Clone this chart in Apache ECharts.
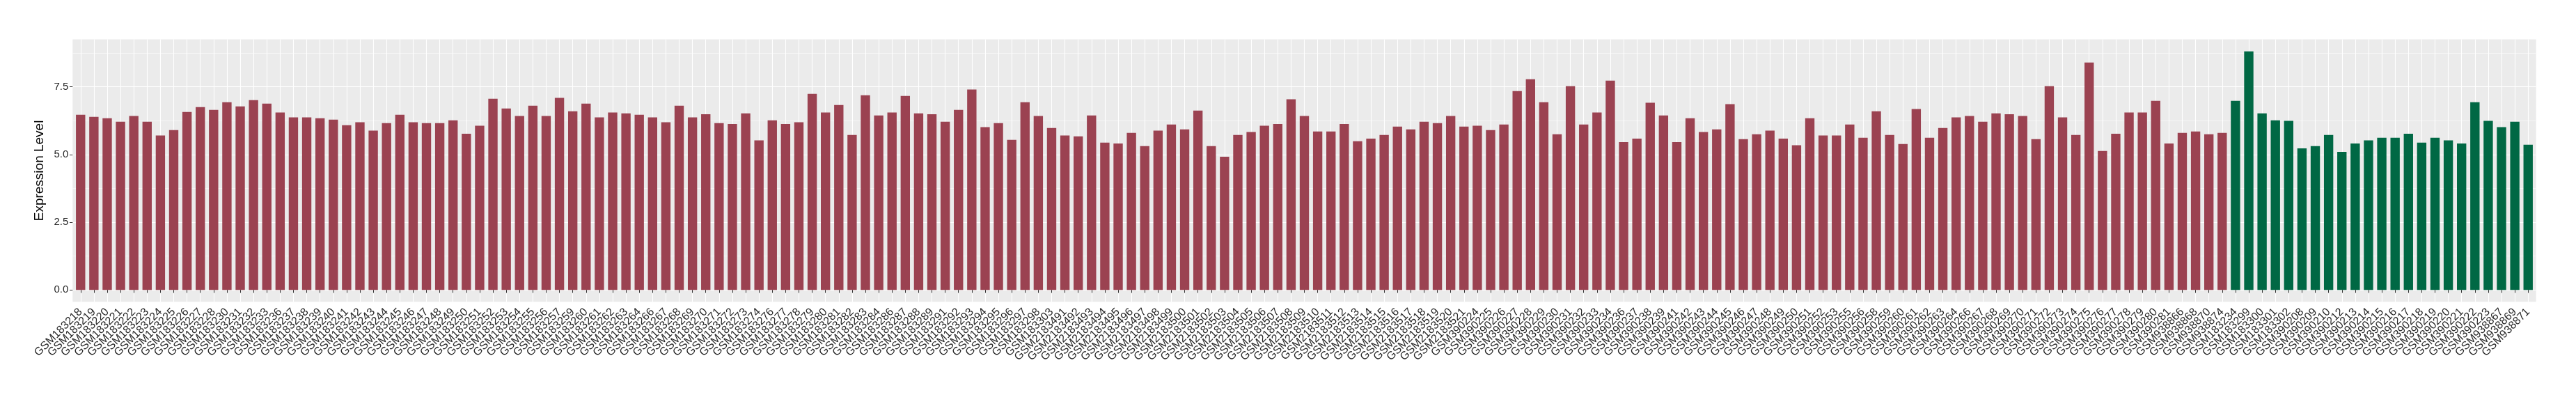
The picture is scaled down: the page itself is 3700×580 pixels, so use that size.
<!DOCTYPE html>
<html><head><meta charset="utf-8">
<script src="https://cdn.jsdelivr.net/npm/echarts@6/dist/echarts.min.js"></script>
<style>html,body{margin:0;padding:0;background:#fff}#c{width:3700px;height:580px}</style>
</head><body><div id="c"></div>
<script>
// ---- data ----
const redSamples = [
 'GSM183218','GSM183219','GSM183220','GSM183221','GSM183222','GSM183223','GSM183224','GSM183225','GSM183226','GSM183227','GSM183228',
 'GSM183230','GSM183231','GSM183232','GSM183233','GSM183236','GSM183237','GSM183238','GSM183239','GSM183240','GSM183241','GSM183242',
 'GSM183243','GSM183244','GSM183245','GSM183246','GSM183247','GSM183248','GSM183249','GSM183250','GSM183251','GSM183252','GSM183253',
 'GSM183254','GSM183255','GSM183256','GSM183257','GSM183259','GSM183260','GSM183261','GSM183262','GSM183263','GSM183264','GSM183266',
 'GSM183267','GSM183268','GSM183269','GSM183270','GSM183271','GSM183272','GSM183273','GSM183274','GSM183276','GSM183277','GSM183278',
 'GSM183279','GSM183280','GSM183281','GSM183282','GSM183283','GSM183284','GSM183286','GSM183287','GSM183288','GSM183289','GSM183291',
 'GSM183292','GSM183293','GSM183294','GSM183295','GSM183296','GSM183297','GSM183298','GSM183303',
 'GSM2183491','GSM2183492','GSM2183493','GSM2183494','GSM2183495','GSM2183496','GSM2183497','GSM2183498','GSM2183499','GSM2183500',
 'GSM2183501','GSM2183502','GSM2183503','GSM2183504','GSM2183505','GSM2183506','GSM2183507','GSM2183508','GSM2183509','GSM2183510',
 'GSM2183511','GSM2183512','GSM2183513','GSM2183514','GSM2183515','GSM2183516','GSM2183517','GSM2183518','GSM2183519','GSM2183520','GSM2183521',
 'GSM390224','GSM390225','GSM390226','GSM390227','GSM390228','GSM390229','GSM390230','GSM390231','GSM390232','GSM390233','GSM390234',
 'GSM390236','GSM390237','GSM390238','GSM390239','GSM390241','GSM390242','GSM390243','GSM390244','GSM390245','GSM390246','GSM390247',
 'GSM390248','GSM390249','GSM390250','GSM390251','GSM390252','GSM390253','GSM390255','GSM390256','GSM390258','GSM390259','GSM390260',
 'GSM390261','GSM390262','GSM390263','GSM390264','GSM390266','GSM390267','GSM390268','GSM390269','GSM390270','GSM390271','GSM390272',
 'GSM390273','GSM390274','GSM390275','GSM390276','GSM390277','GSM390278','GSM390279','GSM390280','GSM390281',
 'GSM938866','GSM938868','GSM938870','GSM938874'
];
const greenSamples = [
 'GSM183234','GSM183299','GSM183300','GSM183301','GSM183302',
 'GSM390208','GSM390209','GSM390210','GSM390212','GSM390213','GSM390214','GSM390215','GSM390216','GSM390217','GSM390218',
 'GSM390219','GSM390220','GSM390221','GSM390222','GSM390223',
 'GSM938867','GSM938869','GSM938871'
];
const redValues = [
 6.47,6.39,6.34,6.21,6.42,6.21,5.70,5.90,6.57,6.75,6.65,6.93,6.78,7.01,6.88,6.55,6.37,6.37,6.34,6.29,6.08,6.19,5.88,6.16,6.47,6.19,6.16,6.16,6.26,5.77,6.06,7.06,6.70,6.42,6.80,6.42,7.09,6.60,6.88,6.37,6.55,6.52,6.47,6.37,6.19,6.80,6.37,
 6.49,6.16,6.13,6.52,5.52,6.26,6.13,6.19,7.24,6.55,6.83,5.72,7.19,6.44,6.55,7.16,6.52,6.49,6.21,6.65,7.40,6.01,6.16,5.54,6.93,6.42,5.98,5.70,5.67,6.44,5.44,5.41,5.80,5.31,5.88,6.11,5.93,6.62,5.31,4.92,5.72,5.83,6.06,6.13,7.04,6.42,
 5.85,5.85,6.13,5.49,5.59,5.72,6.03,5.93,6.21,6.16,6.42,6.03,6.06,5.90,6.11,7.34,7.78,6.93,5.75,7.52,6.11,6.55,7.73,5.46,5.59,6.91,6.44,5.46,6.34,5.83,5.93,6.86,5.57,5.75,5.88,5.59,5.34,6.34,5.70,5.70,6.11,5.62,6.60,5.72,5.39,6.68,
 5.62,5.98,6.37,6.42,6.21,6.52,6.49,6.42,5.57,7.52,6.37,5.72,8.40,5.13,5.77,6.55,6.55,6.98,5.41,5.80,5.85,5.75,5.80
];
const greenValues = [
 6.98,8.81,6.52,6.26,6.24,5.23,5.31,5.72,5.10,5.41,5.52,5.62,5.62,5.77,5.44,5.62,5.52,5.41,6.93,6.24,6.01,6.21,5.36
];
const yTickValues = [0, 2.5, 5, 7.5];
const yTitle = 'Expression Level';

// ---- layout ----
const W = 3700, H = 580;
const PL = 104.3, PR = 3642.7, PT = 56.6, PB = 433.3;
const yLo = -0.4405, yHi = 9.2505;
const categories = redSamples.concat(greenSamples);
const n = categories.length;
const band = (PR - PL) / (n - 1 + 1.2);
const ppu = (PB - PT) / (yHi - yLo);
const gA_top = PT - (10 - yHi) * ppu;
const gA_bot = PB + (yLo + 2.5) * ppu;

const redData = categories.map((c, i) => i < redValues.length ? redValues[i] : '-');
const greenData = categories.map((c, i) => i >= redValues.length ? greenValues[i - redValues.length] : '-');

const FONT = 'Liberation Sans';
const TXT = '#262626';
const chart = echarts.init(document.getElementById('c'), null, {renderer: 'canvas'});
chart.setOption({
  animation: false,
  backgroundColor: '#ffffff',
  grid: [
    {left: PL, right: W - PR, top: PT, bottom: H - PB, show: true, backgroundColor: '#EBEBEB', borderWidth: 0},
    {left: PL, right: W - PR, top: gA_top, bottom: H - gA_bot, show: false},
    {left: PL + 0.1 * band, right: W - PR + 0.1 * band, top: PT, bottom: H - PB, show: false},
    {left: PL + 0.6 * band, right: W - PR + 0.6 * band, top: PT, bottom: H - PB, show: false}
  ],
  xAxis: [
    {gridIndex: 0, type: 'value', show: false, min: 0, max: 1},
    {gridIndex: 1, type: 'value', show: false, min: 0, max: 1},
    {gridIndex: 2, type: 'category', data: categories, boundaryGap: true,
      axisLine: {show: false},
      axisTick: {show: true, alignWithLabel: true, interval: 0, length: 4.3, lineStyle: {color: '#333333', width: 1}},
      axisLabel: {show: true, interval: 0, rotate: 45, margin: 12, fontFamily: FONT, fontSize: 16, color: TXT},
      splitLine: {show: false}},
    {gridIndex: 3, type: 'category', data: categories, boundaryGap: false,
      axisLine: {show: false}, axisTick: {show: false}, axisLabel: {show: false},
      splitLine: {show: true, interval: 0, lineStyle: {color: '#FFFFFF', width: 1.1}}}
  ],
  yAxis: [
    {gridIndex: 0, type: 'value', min: yLo, max: yHi,
      axisLine: {show: false},
      axisTick: {show: true, customValues: yTickValues, length: 4.3, lineStyle: {color: '#333333', width: 1}},
      axisLabel: {show: true, customValues: yTickValues, margin: 6, fontFamily: FONT, fontSize: 15, color: TXT,
        formatter: v => Number(v).toFixed(1)},
      splitLine: {show: false},
      name: yTitle, nameLocation: 'middle', nameGap: 31, nameRotate: 90,
      nameTextStyle: {fontFamily: FONT, fontSize: 19, color: '#000000'}},
    {gridIndex: 1, type: 'value', min: -2.5, max: 10, interval: 2.5,
      axisLine: {show: false}, axisTick: {show: false}, axisLabel: {show: false},
      splitLine: {show: true, lineStyle: {color: '#FFFFFF', width: 1.1}},
      minorTick: {show: false, splitNumber: 2},
      minorSplitLine: {show: true, lineStyle: {color: '#FFFFFF', width: 0.55}}},
    {gridIndex: 2, type: 'value', min: yLo, max: yHi, show: false},
    {gridIndex: 3, type: 'value', min: yLo, max: yHi, show: false}
  ],
  series: [
    {type: 'bar', xAxisIndex: 2, yAxisIndex: 2, data: redData, barWidth: '70%', barGap: '-100%',
      itemStyle: {color: '#9B4251'}, silent: true},
    {type: 'bar', xAxisIndex: 2, yAxisIndex: 2, data: greenData, barWidth: '70%', barGap: '-100%',
      itemStyle: {color: '#006844'}, silent: true}
  ]
});
</script>
</body></html>
